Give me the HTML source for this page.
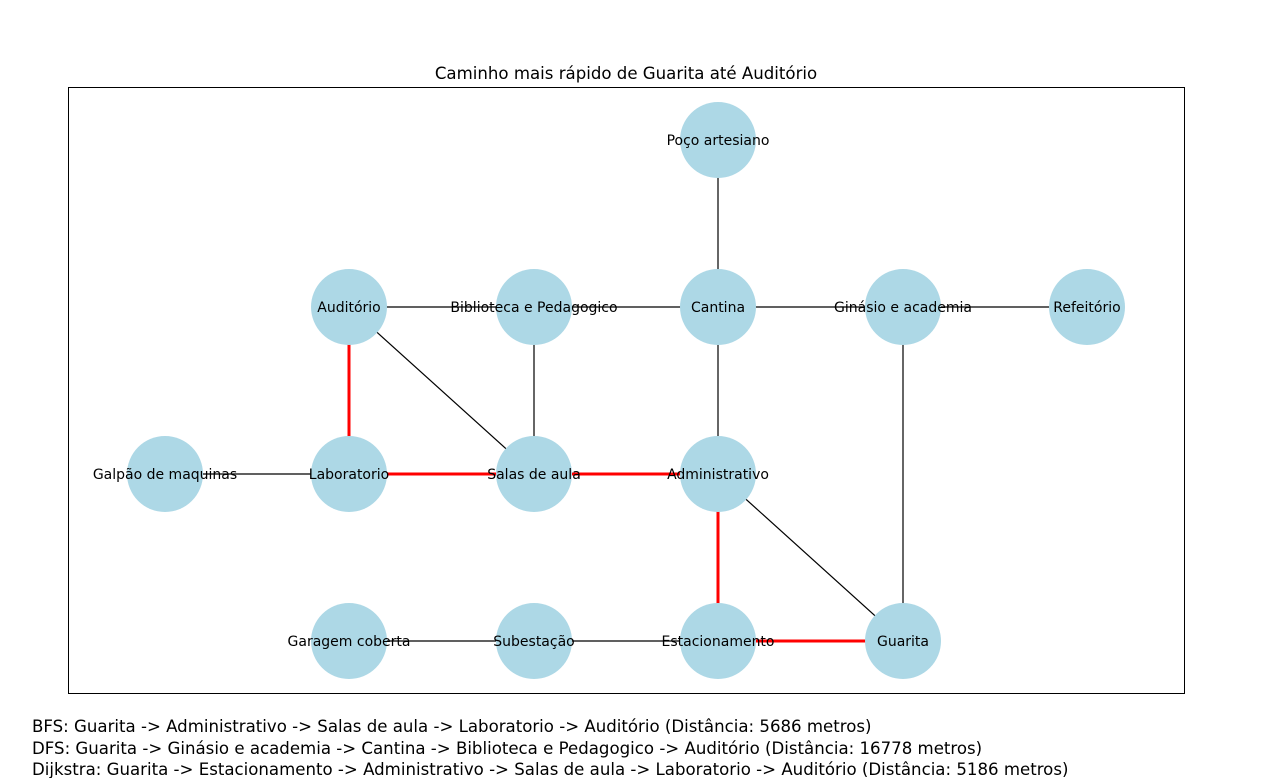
<!DOCTYPE html>
<html><head><meta charset="utf-8"><style>
html,body{margin:0;padding:0;background:#fff;}
svg{display:block;}
text{font-family:"DejaVu Sans","Liberation Sans",sans-serif;fill:#000;}
</style></head><body>
<svg width="1261" height="778" viewBox="0 0 1261 778" xmlns="http://www.w3.org/2000/svg">
<rect x="0" y="0" width="1261" height="778" fill="#fff"/>
<text x="626" y="79" font-size="16.6" text-anchor="middle">Caminho mais rápido de Guarita até Auditório</text>
<rect x="68.5" y="87.5" width="1116" height="606" fill="none" stroke="#000" stroke-width="1"/>
<g stroke="#000" stroke-width="1.2">
<line x1="718" y1="140" x2="718" y2="307"/>
<line x1="349" y1="307" x2="1087" y2="307"/>
<line x1="349" y1="307" x2="534" y2="474"/>
<line x1="534" y1="307" x2="534" y2="474"/>
<line x1="718" y1="307" x2="718" y2="474"/>
<line x1="903" y1="307" x2="903" y2="641"/>
<line x1="165" y1="474" x2="349" y2="474"/>
<line x1="718" y1="474" x2="903" y2="641"/>
<line x1="349" y1="641" x2="718" y2="641"/>
</g>
<g stroke="#ff0000" stroke-width="3">
<line x1="349" y1="307" x2="349" y2="474"/>
<line x1="349" y1="474" x2="718" y2="474"/>
<line x1="718" y1="474" x2="718" y2="641"/>
<line x1="718" y1="641" x2="903" y2="641"/>
</g>
<g fill="#add8e6">
<circle cx="718" cy="140" r="38"/>
<circle cx="349" cy="307" r="38"/><circle cx="534" cy="307" r="38"/><circle cx="718" cy="307" r="38"/><circle cx="903" cy="307" r="38"/><circle cx="1087" cy="307" r="38"/>
<circle cx="165" cy="474" r="38"/><circle cx="349" cy="474" r="38"/><circle cx="534" cy="474" r="38"/><circle cx="718" cy="474" r="38"/>
<circle cx="349" cy="641" r="38"/><circle cx="534" cy="641" r="38"/><circle cx="718" cy="641" r="38"/><circle cx="903" cy="641" r="38"/>
</g>
<g font-size="14" text-anchor="middle">
<text x="718" y="145">Poço artesiano</text>
<text x="349" y="312">Auditório</text>
<text x="534" y="312">Biblioteca e Pedagogico</text>
<text x="718" y="312">Cantina</text>
<text x="903" y="312">Ginásio e academia</text>
<text x="1087" y="312">Refeitório</text>
<text x="165" y="479">Galpão de maquinas</text>
<text x="349" y="479">Laboratorio</text>
<text x="534" y="479">Salas de aula</text>
<text x="718" y="479">Administrativo</text>
<text x="349" y="646">Garagem coberta</text>
<text x="534" y="646">Subestação</text>
<text x="718" y="646">Estacionamento</text>
<text x="903" y="646">Guarita</text>
</g>
<g font-size="16.6">
<text x="32" y="732">BFS: Guarita -&gt; Administrativo -&gt; Salas de aula -&gt; Laboratorio -&gt; Auditório (Distância: 5686 metros)</text>
<text x="32" y="754">DFS: Guarita -&gt; Ginásio e academia -&gt; Cantina -&gt; Biblioteca e Pedagogico -&gt; Auditório (Distância: 16778 metros)</text>
<text x="32" y="775">Dijkstra: Guarita -&gt; Estacionamento -&gt; Administrativo -&gt; Salas de aula -&gt; Laboratorio -&gt; Auditório (Distância: 5186 metros)</text>
</g>
</svg>
</body></html>
